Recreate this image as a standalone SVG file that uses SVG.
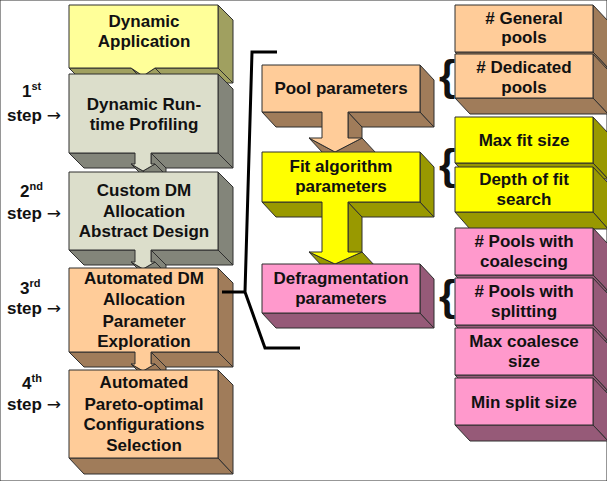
<svg xmlns="http://www.w3.org/2000/svg" width="607" height="481" viewBox="0 0 607 481">
<style>
text{font-family:"Liberation Sans",Arial,sans-serif;font-weight:bold;font-size:17px;fill:#111;}
.c{text-anchor:middle;}
polygon,rect{stroke:#2e2e2e;stroke-width:1;stroke-linejoin:round;}
.lyF{fill:#FFFF99}.lyS{fill:#A0A060}
.gF{fill:#DCDECB}.gS{fill:#83857A}
.pF{fill:#FFCC99}.pS{fill:#A07C5A}
.yF{fill:#FFFF00}.yS{fill:#999900}
.kF{fill:#FF99CC}.kS{fill:#965A78}
.br{font-weight:bold;font-size:42px;}
.ar{font-family:"DejaVu Sans",sans-serif;font-weight:normal;}
.sup{font-size:11px;}
</style>
<rect width="607" height="481" fill="#fff" stroke="none"/>

<g id="dynamic-application">
<polygon class="lyS" points="69,68 131,68 146,83 84,83"/>
<polygon class="lyS" points="131,68 143,76 158,91 146,83"/>
<polygon class="lyS" points="155,68 143,76 158,91 170,83"/>
<polygon class="lyS" points="155,68 218,68 233,83 170,83"/>
<polygon class="lyS" points="218,5 233,20 233,83 218,68"/>
<polygon class="lyF" points="69,5 218,5 218,68 155,68 143,76 131,68 69,68"/>
<text class="c" x="144" y="27">Dynamic</text>
<text class="c" x="144" y="47">Application</text>
</g>

<g id="step1-profiling">
<polygon class="gS" points="69,153 135,153 150,168 84,168"/>
<polygon class="gS" points="131,164 143,171 158,186 146,179"/>
<polygon class="gS" points="151,153 151,164 166,179 166,168"/>
<polygon class="gS" points="155,164 143,171 158,186 170,179"/>
<polygon class="gS" points="151,153 218,153 233,168 166,168"/>
<polygon class="gS" points="218,74 233,89 233,168 218,153"/>
<polygon class="gF" points="69,74 218,74 218,153 151,153 151,164 155,164 143,171 131,164 135,164 135,153 69,153"/>
<text class="c" x="144" y="110">Dynamic Run-</text>
<text class="c" x="144" y="130">time Profiling</text>
</g>

<g id="step2-design">
<polygon class="gS" points="69,250 135,250 150,265 84,265"/>
<polygon class="gS" points="131,262 143,269 158,284 146,277"/>
<polygon class="gS" points="151,250 151,262 166,277 166,265"/>
<polygon class="gS" points="155,262 143,269 158,284 170,277"/>
<polygon class="gS" points="151,250 218,250 233,265 166,265"/>
<polygon class="gS" points="218,172 233,187 233,265 218,250"/>
<polygon class="gF" points="69,172 218,172 218,250 151,250 151,262 155,262 143,269 131,262 135,262 135,250 69,250"/>
<text class="c" x="144" y="196">Custom DM</text>
<text class="c" x="144" y="217">Allocation</text>
<text class="c" x="144" y="237">Abstract Design</text>
</g>

<g id="step3-exploration">
<polygon class="pS" points="69,352 135,352 150,367 84,367"/>
<polygon class="pS" points="131,364 143,371 158,386 146,379"/>
<polygon class="pS" points="151,352 151,364 166,379 166,367"/>
<polygon class="pS" points="155,364 143,371 158,386 170,379"/>
<polygon class="pS" points="151,352 218,352 233,367 166,367"/>
<polygon class="pS" points="218,268 233,283 233,367 218,352"/>
<polygon class="pF" points="69,268 218,268 218,352 151,352 151,364 155,364 143,371 131,364 135,364 135,352 69,352"/>
<text class="c" x="144" y="284">Automated DM</text>
<text class="c" x="144" y="305">Allocation</text>
<text class="c" x="144" y="327">Parameter</text>
<text class="c" x="144" y="347">Exploration</text>
</g>

<g id="step4-selection">
<polygon class="pS" points="69,458 218,458 233,474 84,474"/>
<polygon class="pS" points="218,370 233,385 233,474 218,458"/>
<rect class="pF" x="69" y="370" width="149" height="88"/>
<text class="c" x="144" y="388">Automated</text>
<text class="c" x="144" y="410">Pareto-optimal</text>
<text class="c" x="144" y="430">Configurations</text>
<text class="c" x="144" y="451">Selection</text>
</g>

<g id="step-labels">
<text x="22" y="97">1<tspan class="sup" dy="-7">st</tspan></text>
<text x="7" y="121">step <tspan class="ar">→</tspan></text>
<text x="20" y="197">2<tspan class="sup" dy="-7">nd</tspan></text>
<text x="7" y="219">step <tspan class="ar">→</tspan></text>
<text x="20" y="294">3<tspan class="sup" dy="-7">rd</tspan></text>
<text x="7" y="314">step <tspan class="ar">→</tspan></text>
<text x="22" y="389">4<tspan class="sup" dy="-7">th</tspan></text>
<text x="7" y="410">step <tspan class="ar">→</tspan></text>
</g>

<g id="pool-parameters">
<polygon class="pS" points="262,112 322,112 336,127 276,127"/>
<polygon class="pS" points="309,138 335,152 349,167 323,153"/>
<polygon class="pS" points="348,112 348,138 362,153 362,127"/>
<polygon class="pS" points="362,138 335,152 349,167 376,153"/>
<polygon class="pS" points="348,112 420,112 434,127 362,127"/>
<polygon class="pS" points="420,65 434,80 434,127 420,112"/>
<polygon class="pF" points="262,65 420,65 420,112 348,112 348,138 362,138 335,152 309,138 322,138 322,112 262,112"/>
<text class="c" x="341" y="94">Pool parameters</text>
</g>

<g id="fit-parameters">
<polygon class="yS" points="262,202 322,202 336,217 276,217"/>
<polygon class="yS" points="309,252 335,264 349,279 323,267"/>
<polygon class="yS" points="348,202 348,252 362,267 362,217"/>
<polygon class="yS" points="362,252 335,264 349,279 376,267"/>
<polygon class="yS" points="348,202 420,202 434,217 362,217"/>
<polygon class="yS" points="420,152 434,167 434,217 420,202"/>
<polygon class="yF" points="262,152 420,152 420,202 348,202 348,252 362,252 335,264 309,252 322,252 322,202 262,202"/>
<text class="c" x="341" y="172">Fit algorithm</text>
<text class="c" x="341" y="192">parameters</text>
</g>

<g id="defrag-parameters">
<polygon class="kS" points="262,313 420,313 434,328 276,328"/>
<polygon class="kS" points="420,264 434,279 434,328 420,313"/>
<rect class="kF" x="262" y="264" width="158" height="49"/>
<text class="c" x="341" y="284">Defragmentation</text>
<text class="c" x="341" y="304">parameters</text>
</g>

<g id="general-pools">
<polygon class="pS" points="593,5 608,21 608,68 593,52"/>
<polygon class="pS" points="455,52 593,52 608,68 470,68"/>
<rect class="pF" x="455" y="5" width="138" height="47"/>
<text class="c" x="524" y="24"># General</text>
<text class="c" x="524" y="43">pools</text>
</g>
<g id="dedicated-pools">
<polygon class="pS" points="593,54 608,70 608,114 593,98"/>
<polygon class="pS" points="455,98 593,98 608,114 470,114"/>
<rect class="pF" x="455" y="54" width="138" height="44"/>
<text class="c" x="524" y="73"># Dedicated</text>
<text class="c" x="524" y="93">pools</text>
</g>
<g id="max-fit-size">
<polygon class="yS" points="593,117 608,133 608,179 593,163"/>
<polygon class="yS" points="455,163 593,163 608,179 470,179"/>
<rect class="yF" x="455" y="117" width="138" height="46"/>
<text class="c" x="524" y="146">Max fit size</text>
</g>
<g id="depth-fit-search">
<polygon class="yS" points="593,167 608,183 608,229 593,212"/>
<polygon class="yS" points="455,212 593,212 608,229 470,229"/>
<rect class="yF" x="455" y="167" width="138" height="45"/>
<text class="c" x="524" y="185">Depth of fit</text>
<text class="c" x="524" y="205">search</text>
</g>
<g id="pools-coalescing">
<polygon class="kS" points="593,228 608,244 608,291 593,275"/>
<polygon class="kS" points="455,275 593,275 608,291 470,291"/>
<rect class="kF" x="455" y="228" width="138" height="47"/>
<text class="c" x="524" y="247"># Pools with</text>
<text class="c" x="524" y="267">coalescing</text>
</g>
<g id="pools-splitting">
<polygon class="kS" points="593,278 608,294 608,341 593,325"/>
<polygon class="kS" points="455,325 593,325 608,341 470,341"/>
<rect class="kF" x="455" y="278" width="138" height="47"/>
<text class="c" x="524" y="297"># Pools with</text>
<text class="c" x="524" y="317">splitting</text>
</g>
<g id="max-coalesce-size">
<polygon class="kS" points="593,328 608,344 608,391 593,375"/>
<polygon class="kS" points="455,375 593,375 608,391 470,391"/>
<rect class="kF" x="455" y="328" width="138" height="47"/>
<text class="c" x="524" y="347">Max coalesce</text>
<text class="c" x="524" y="367">size</text>
</g>
<g id="min-split-size">
<polygon class="kS" points="593,378 608,394 608,441 593,425"/>
<polygon class="kS" points="455,425 593,425 608,441 470,441"/>
<rect class="kF" x="455" y="378" width="138" height="47"/>
<text class="c" x="524" y="408">Min split size</text>
</g>

<g id="connectors" fill="none" stroke="#000" stroke-width="3" stroke-linejoin="miter">
<polyline points="277,52 252,52 245,292 265,348 300,348"/>
<line x1="222" y1="292" x2="245" y2="292"/>
<text class="br" x="439" y="90" stroke="none">{</text>
<text class="br" x="439" y="179" stroke="none">{</text>
<text class="br" x="439" y="310" stroke="none">{</text>
</g>
</svg>
